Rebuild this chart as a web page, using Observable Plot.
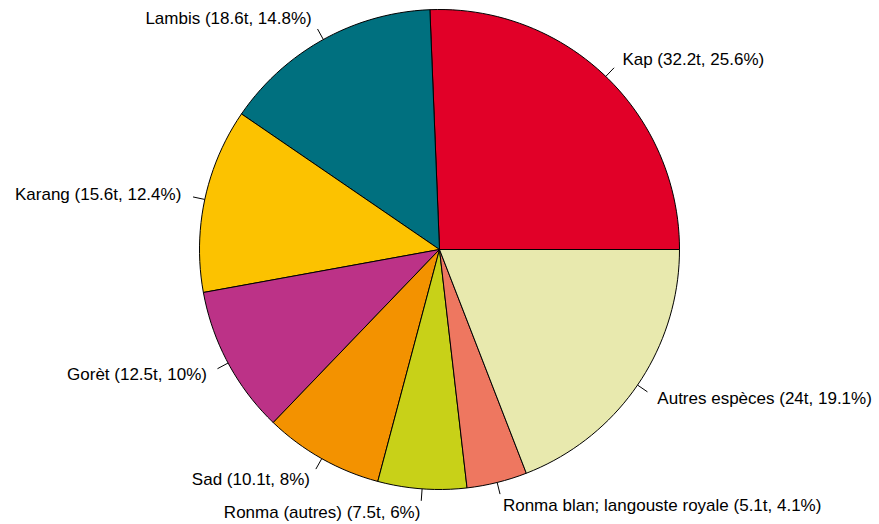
<!DOCTYPE html>
<html>
<head>
<meta charset="utf-8">
<script src="https://cdn.jsdelivr.net/npm/d3@7"></script>
<script src="https://cdn.jsdelivr.net/npm/@observablehq/plot@0.6"></script>
<style>
  html, body { margin: 0; padding: 0; background: #fff; }
  #chart svg { display: block; }
</style>
</head>
<body>
<div id="chart"></div>
<script>
const names = ["Kap", "Lambis", "Karang", "Gorèt", "Sad", "Ronma (autres)", "Ronma blan; langouste royale", "Autres espèces"];
const tonnes = [32.2, 18.6, 15.6, 12.5, 10.1, 7.5, 5.1, 24];
const pctLabels = ["25.6%", "14.8%", "12.4%", "10%", "8%", "6%", "4.1%", "19.1%"];
const colors = ["#E10028", "#00707F", "#FCC200", "#BC3287", "#F39200", "#C8D118", "#EE7760", "#E8E9AE"];

const W = 879, H = 524, cx = 439, cy = 249, R = 240;
const total = d3.sum(tonnes);
const edges = 200;

const slicePts = [];
const labels = [];
let acc = 0;
tonnes.forEach((v, i) => {
  const t0 = acc / total, t1 = (acc + v) / total;
  acc += v;
  const n = Math.max(2, Math.floor(edges * (t1 - t0)));
  slicePts.push({name: names[i], x: 0, y: 0});
  for (let k = 0; k <= n; k++) {
    const a = 2 * Math.PI * (t0 + (t1 - t0) * k / n);
    slicePts.push({name: names[i], x: Math.cos(a), y: Math.sin(a)});
  }
  slicePts.push({name: names[i], x: 0, y: 0});
  const m = 2 * Math.PI * (t0 + t1) / 2;
  labels.push({
    name: names[i],
    text: `${names[i]} (${tonnes[i]}t, ${pctLabels[i]})`,
    c: Math.cos(m), s: Math.sin(m)
  });
});

const plot = Plot.plot({
  width: W,
  height: H,
  margin: 0,
  x: {domain: [-cx / R, (W - cx) / R], range: [0, W], axis: null},
  y: {domain: [-(H - cy) / R, cy / R], range: [H, 0], axis: null},
  color: {domain: names, range: colors, type: "ordinal"},
  style: {fontFamily: "Liberation Sans, Arial, sans-serif", background: "#fff"},
  marks: [
    Plot.line(slicePts, {x: "x", y: "y", z: "name", fill: "name", stroke: "black", strokeWidth: 1, curve: "linear"}),
    Plot.link(labels, {x1: d => d.c, y1: d => d.s, x2: d => 1.05 * d.c, y2: d => 1.05 * d.s, stroke: "black", strokeWidth: 1}),
    Plot.text(labels.filter(d => d.c >= 0), {x: d => 1.1 * d.c, y: d => 1.1 * d.s, text: "text", textAnchor: "start", fontSize: 17, fill: "black"}),
    Plot.text(labels.filter(d => d.c < 0), {x: d => 1.1 * d.c, y: d => 1.1 * d.s, text: "text", textAnchor: "end", fontSize: 17, fill: "black"})
  ]
});
document.getElementById("chart").appendChild(plot);
</script>
</body>
</html>
